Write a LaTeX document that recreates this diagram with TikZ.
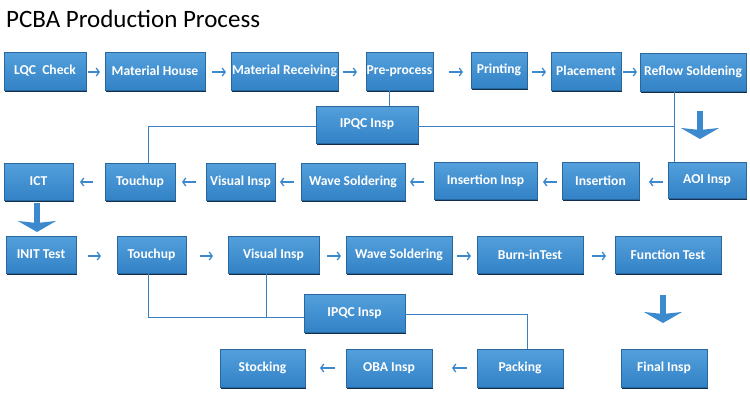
\documentclass[tikz,border=0pt]{standalone}
\usepackage{fontspec}
\setmainfont{Carlito}
\usetikzlibrary{arrows.meta,shadows}
\definecolor{boxtop}{RGB}{84,160,220}
\definecolor{boxbot}{RGB}{50,130,198}
\definecolor{boxdark}{RGB}{20,46,78}
\definecolor{linec}{RGB}{58,128,194}
\definecolor{arrc}{RGB}{60,138,205}
\tikzset{
  box/.style={rectangle, inner sep=0pt, top color=boxtop, bottom color=boxbot,
    draw=boxbot!80!black, line width=0.3pt,
    drop shadow={shadow xshift=1.3pt, shadow yshift=-2pt, fill=boxdark, opacity=1},
    text=white, font=\fontsize{13.6}{15}\selectfont\bfseries, align=center},
  conn/.style={draw=linec, line width=0.9pt},
  small/.style={draw=arrc, line width=1.3pt, -{Straight Barb[length=3pt,width=8pt]}},
  big/.style={draw=arrc, line width=6pt, -{Stealth[length=11pt,width=38pt,inset=2pt]}}
}
\newcommand{\bx}[6]{\node[box, minimum width=#4pt, minimum height=#5pt] (#1) at (#2,#3) {#6};}
\begin{document}
\begin{tikzpicture}[x=1pt,y=-1pt]
\useasboundingbox (0,0) rectangle (750,400);
\node[anchor=base west, inner sep=0pt, font=\fontsize{25}{30}\selectfont] (title) at (6,27) {PCBA Production Process};
% row 1
\bx{lqc}{45}{71}{82}{38}{LQC\ \ Check}
\bx{mh}{155}{71}{100}{38}{Material House}
\bx{mr}{284.5}{71}{107}{38}{Material Receiving}
\bx{pre}{399.5}{71}{67}{38}{Pre-process}
\bx{print}{499}{70}{56}{36}{Printing}
\bx{place}{586}{71}{70}{38}{Placement}
\bx{reflow}{693}{72}{106}{38}{Reflow Soldening}
\bx{ipqca}{367}{124.5}{102}{37}{IPQC Insp}
% row 2
\bx{ict}{38.5}{181.5}{69}{37}{ICT}
\bx{toucha}{140}{181.5}{70}{37}{Touchup}
\bx{visa}{240.5}{181.5}{69}{37}{Visual Insp}
\bx{wavea}{353}{181.5}{104}{37}{Wave Soldering}
\bx{insi}{485.5}{180.5}{103}{37}{Insertion Insp}
\bx{ins}{600.5}{180.5}{77}{37}{Insertion}
\bx{aoi}{707}{180}{78}{36}{AOI Insp}
% row 3
\bx{init}{41}{254.5}{70}{37}{INIT Test}
\bx{touchb}{151.5}{254.5}{69}{37}{Touchup}
\bx{visb}{273.5}{254.5}{91}{37}{Visual Insp}
\bx{waveb}{399}{254.5}{106}{37}{Wave Soldering}
\bx{burn}{530}{254.5}{106}{37}{Burn-inTest}
\bx{func}{668}{254.5}{106}{37}{Function Test}
\bx{ipqcb}{354.5}{313}{101}{38}{IPQC Insp}
% row 4
\bx{stock}{262.5}{368}{85}{38}{Stocking}
\bx{oba}{389}{368}{86}{38}{OBA Insp}
\bx{pack}{520}{368}{86}{38}{Packing}
\bx{final}{664}{368}{86}{38}{Final Insp}
% helper coordinates
\coordinate (prej) at ([xshift=-10.5pt]pre.south);
\coordinate (rj) at ([xshift=-19pt]reflow.south);
\coordinate (iaw) at ([yshift=-1.5pt]ipqca.west);
\coordinate (iae) at ([yshift=-1.5pt]ipqca.east);
\coordinate (ibw) at ([yshift=-4pt]ipqcb.west);
\coordinate (ibe) at ([yshift=-1pt]ipqcb.east);
% connector lines
\draw[conn] (prej) -- (prej |- ipqca.north);
\draw[conn] (iaw) -| ([xshift=8pt]toucha.north);
\draw[conn] (rj) -- (rj |- aoi.north);
\draw[conn] (iae) -- (iae -| rj);
\draw[conn] ([xshift=-3.5pt]touchb.south) |- (ibw);
\draw[conn] ([xshift=-7.5pt]visb.south) -- ([xshift=-7.5pt]visb.south |- ibw);
\draw[conn] (ibe) -| ([xshift=7pt]pack.north);
% small arrows row 1
\coordinate (r1a) at (88,72); \coordinate (r1b) at (100,72);
\draw[small] (r1a) -- (r1b);
\coordinate (r1c) at (212,72); \coordinate (r1d) at (226,72);
\draw[small] (r1c) -- (r1d);
\coordinate (r1e) at (343,72); \coordinate (r1f) at (357,72);
\draw[small] (r1e) -- (r1f);
\coordinate (r1g) at (449,72); \coordinate (r1h) at (463,72);
\draw[small] (r1g) -- (r1h);
\coordinate (r1i) at (532,72); \coordinate (r1j) at (546,72);
\draw[small] (r1i) -- (r1j);
\coordinate (r1k) at (623,72); \coordinate (r1l) at (637,72);
\draw[small] (r1k) -- (r1l);
% small arrows row 2
\coordinate (r2a) at (663,182); \coordinate (r2b) at (649,182);
\draw[small] (r2a) -- (r2b);
\coordinate (r2c) at (557,182); \coordinate (r2d) at (543,182);
\draw[small] (r2c) -- (r2d);
\coordinate (r2e) at (424,182); \coordinate (r2f) at (410,182);
\draw[small] (r2e) -- (r2f);
\coordinate (r2g) at (294,182); \coordinate (r2h) at (280,182);
\draw[small] (r2g) -- (r2h);
\coordinate (r2i) at (196,182); \coordinate (r2j) at (182,182);
\draw[small] (r2i) -- (r2j);
\coordinate (r2k) at (93,182); \coordinate (r2l) at (80,182);
\draw[small] (r2k) -- (r2l);
% small arrows row 3
\coordinate (r3a) at (88,256); \coordinate (r3b) at (101,256);
\draw[small] (r3a) -- (r3b);
\coordinate (r3c) at (200,256); \coordinate (r3d) at (213,256);
\draw[small] (r3c) -- (r3d);
\coordinate (r3e) at (327,256); \coordinate (r3f) at (341,256);
\draw[small] (r3e) -- (r3f);
\coordinate (r3g) at (457,256); \coordinate (r3h) at (471,256);
\draw[small] (r3g) -- (r3h);
\coordinate (r3i) at (592,256); \coordinate (r3j) at (606,256);
\draw[small] (r3i) -- (r3j);
% small arrows row 4
\coordinate (r4a) at (335,368); \coordinate (r4b) at (320,368);
\draw[small] (r4a) -- (r4b);
\coordinate (r4c) at (467,368); \coordinate (r4d) at (452,368);
\draw[small] (r4c) -- (r4d);
% big arrows
\coordinate (b1a) at (700,111); \coordinate (b1b) at (700,139);
\draw[big] (b1a) -- (b1b);
\coordinate (b2a) at (37,203); \coordinate (b2b) at (37,232);
\draw[big] (b2a) -- (b2b);
\coordinate (b3a) at (663,295); \coordinate (b3b) at (663,323);
\draw[big] (b3a) -- (b3b);
\end{tikzpicture}
\end{document}
